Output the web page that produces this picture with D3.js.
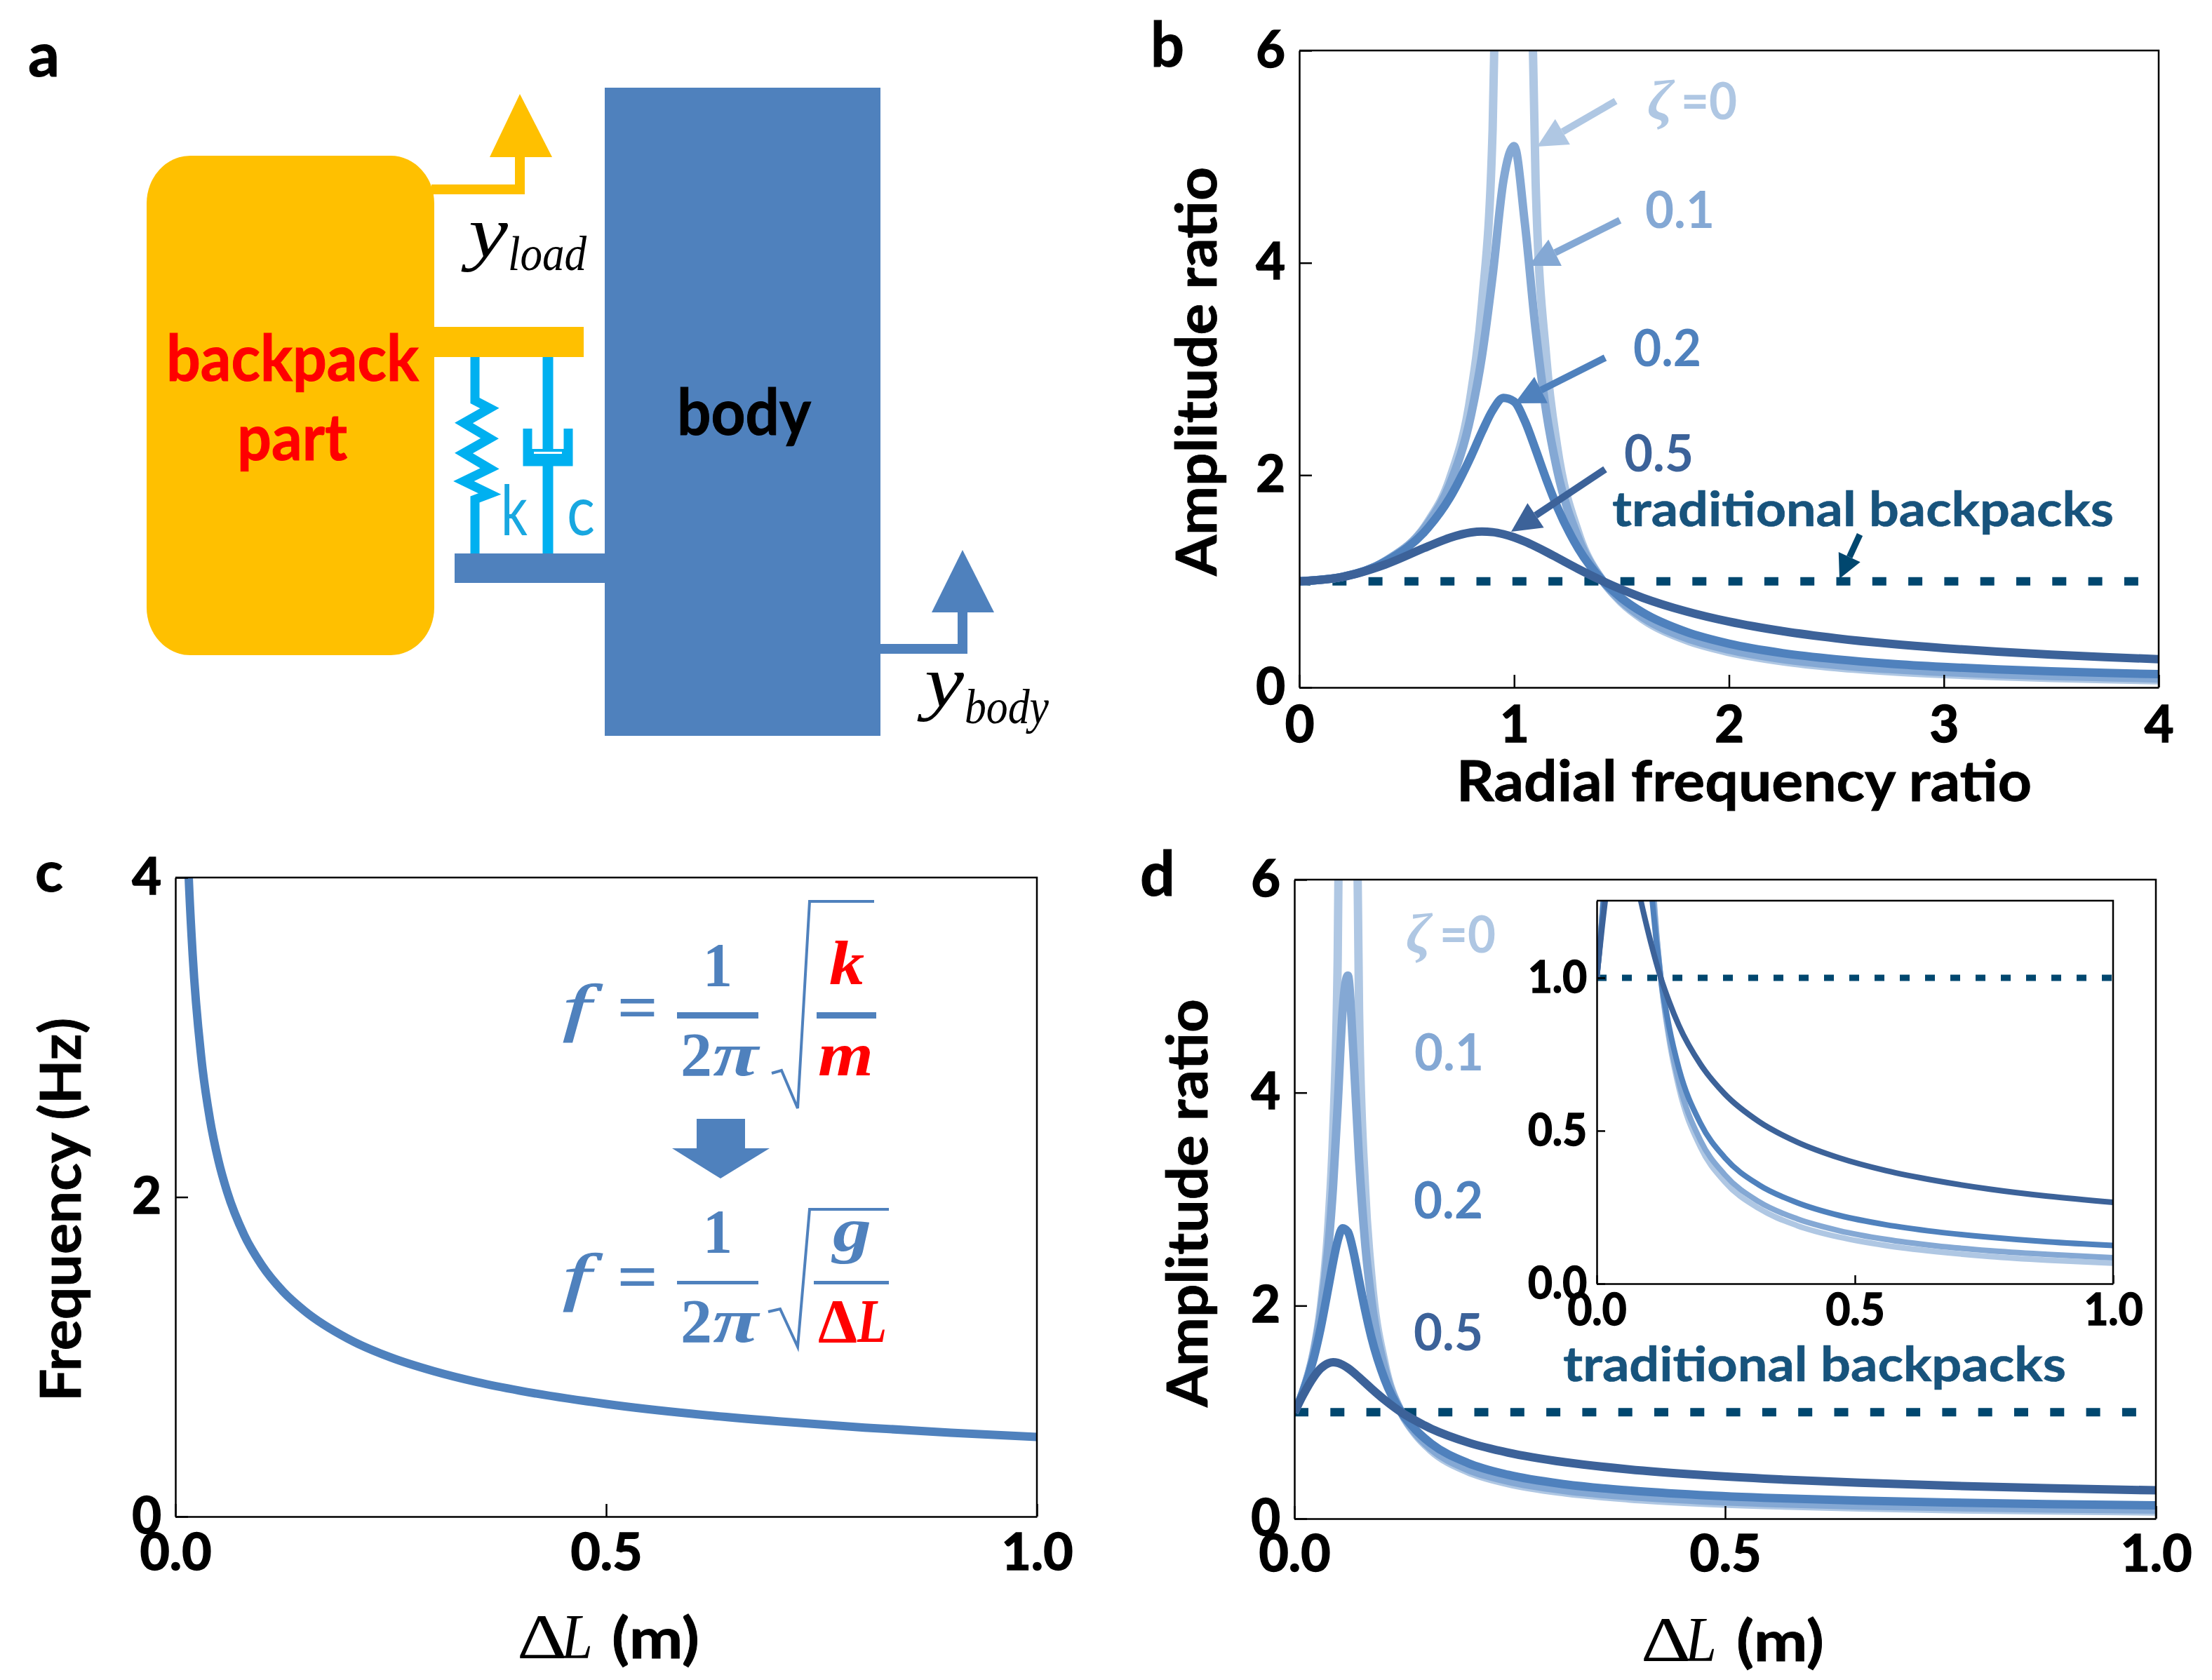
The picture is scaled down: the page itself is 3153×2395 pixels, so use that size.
<!DOCTYPE html>
<html><head><meta charset="utf-8">
<script src="https://cdn.jsdelivr.net/npm/d3@7/dist/d3.min.js"></script>
<style>html,body{margin:0;padding:0;background:#fff}svg{display:block}</style>
</head><body><svg id="c" width="3153" height="2395"></svg>
<script>
// ---- values ----
const radialRatio=[0,.2,.4,.6,.7,.8,.85,.9,.95,1,1.05,1.1,1.15,1.2,1.3,1.414,1.5,1.6,1.8,2,2.25,2.5,2.75,3,3.25,3.5,3.75,4];
const deltaLGrid=[0,.0025,.0099,.0224,.0304,.0397,.0449,.0503,.056,.0621,.0685,.0751,.0821,.0894,.105,.124,.14,.159,.201,.248,.314,.388,.47,.559,.656,.761,.873,1];
const ampZeta0=[1,1.042,1.19,1.563,1.961,2.778,3.604,5.263,10.26,null,9.76,4.762,3.10,2.273,1.449,1,.8,.641,.446,.333,.246,.19,.152,.125,.105,.089,.077,.067];
const ampZeta01=[1,1.042,1.189,1.547,1.909,2.571,3.117,3.88,4.77,5.1,4.37,3.37,2.59,2.05,1.4,1,.812,.659,.468,.356,.268,.212,.173,.145,.124,.108,.096,.085];
const ampZeta02=[1,1.041,1.184,1.505,1.785,2.18,2.407,2.611,2.727,2.693,2.509,2.241,1.959,1.703,1.304,1,.841,.704,.524,.412,.323,.265,.223,.193,.17,.152,.137,.125];
const ampZeta05=[1,1.04,1.158,1.329,1.409,1.46,1.468,1.463,1.444,1.414,1.374,1.327,1.276,1.222,1.114,1,.923,.844,.717,.62,.53,.463,.411,.37,.337,.309,.286,.266];
const traditionalX=[0,1];
const traditionalY=[1,1];
const freqL=[.012,.0155,.02,.03,.04,.05,.06,.08,.1,.125,.15,.2,.25,.3,.35,.4,.5,.6,.7,.8,.9,1];
const freqHz=[4.55,4,3.52,2.875,2.49,2.228,2.034,1.761,1.576,1.409,1.287,1.114,.996,.91,.842,.788,.705,.643,.596,.557,.525,.498];
const ticksB_X=[0,1,2,3,4], ticksAmp=[0,2,4,6], ticksFreq=[0,2,4], ticksL=[0,.5,1], ticksInsetY=[0,.5,1];
const seriesColors=["#AFC7E3","#84A8D4","#4F81BD","#3C6299"];
const DASH="#00476F", BLUE="#4F81BD", YEL="#FFC000", CY="#00B0F0";
const SANS="Lato, 'Noto Sans', sans-serif", SERIF="'Liberation Serif', serif";

const svg=d3.select("#c");
svg.append("rect").attr("width",3153).attr("height",2395).attr("fill","#fff");
function txt(s,x0,x1,y,fs,fill,o={}){
  const t=svg.append("text").attr("x",x0).attr("y",y).attr("font-size",fs).attr("fill",fill)
   .attr("font-family",o.family||SANS).attr("font-weight",o.weight||700).attr("font-style",o.style||"normal")
   .attr("textLength",x1-x0).attr("lengthAdjust","spacingAndGlyphs").text(s);
  if(o.thick) t.attr("stroke",fill).attr("stroke-width",o.thick);
  return t;
}
function vtxt(s,xb,yBottom,yTop,fs,fill){
  svg.append("text").attr("transform",`translate(${xb},${yBottom}) rotate(-90)`).attr("font-size",fs).attr("fill",fill).attr("stroke",fill).attr("stroke-width",.8)
   .attr("font-family",SANS).attr("font-weight",700).attr("textLength",yBottom-yTop).attr("lengthAdjust","spacingAndGlyphs").text(s);
}
function poly(pts,fill){svg.append("polygon").attr("points",pts.map(p=>p.join(",")).join(" ")).attr("fill",fill);}
function rect(x0,y0,x1,y1,fill){svg.append("rect").attr("x",x0).attr("y",y0).attr("width",x1-x0).attr("height",y1-y0).attr("fill",fill);}
function pline(pts,stroke,w,join){svg.append("polyline").attr("points",pts.map(p=>p.join(",")).join(" ")).attr("fill","none").attr("stroke",stroke).attr("stroke-width",w).attr("stroke-linejoin",join||"miter");}
function arrow(x0,y0,x1,y1,color,w,hl,hw){
  const a=Math.atan2(y1-y0,x1-x0),cx=x1-hl*Math.cos(a),cy=y1-hl*Math.sin(a),nx=-Math.sin(a),ny=Math.cos(a);
  svg.append("line").attr("x1",x0).attr("y1",y0).attr("x2",cx).attr("y2",cy).attr("stroke",color).attr("stroke-width",w);
  poly([[x1,y1],[cx+nx*hw/2,cy+ny*hw/2],[cx-nx*hw/2,cy-ny*hw/2]],color);
}

let clipId=0;
function panel(o){
  const x=d3.scaleLinear().domain(o.xd).range([o.x0,o.x1]);
  const y=d3.scaleLinear().domain(o.yd).range([o.y1,o.y0]);
  const id="clip"+(clipId++);
  svg.append("clipPath").attr("id",id).append("rect").attr("x",o.x0).attr("y",o.y0).attr("width",o.x1-o.x0).attr("height",o.y1-o.y0);
  const g=svg.append("g").attr("clip-path",`url(#${id})`);
  const line=(xs)=>d3.line().defined(d=>d!=null).x((d,i)=>x(xs[i])).y(d=>y(d)).curve(d3.curveMonotoneX);
  if(o.dash){
    g.append("path").attr("d",d3.line().x((d,i)=>x(o.dash[0][i])).y(d=>y(d))(o.dash[1])).attr("fill","none").attr("stroke",DASH)
     .attr("stroke-width",o.dashW).attr("stroke-dasharray",o.dashA).attr("stroke-dashoffset",o.dashO||0);
  }
  o.series.forEach((s,i)=>{
    g.append("path").attr("d",line(o.xs)(s)).attr("fill","none").attr("stroke",o.colors[i]).attr("stroke-width",o.w);
  });
  const ax=svg.append("g").attr("transform",`translate(0,${o.y1})`).call(d3.axisBottom(x).tickValues(o.xt).tickFormat(o.xf).tickSizeInner(-o.tl).tickSizeOuter(0).tickPadding(o.xpad));
  const ay=svg.append("g").attr("transform",`translate(${o.x0},0)`).call(d3.axisLeft(y).tickValues(o.yt).tickFormat(o.yf).tickSizeInner(-o.tl).tickSizeOuter(0).tickPadding(o.ypad));
  [ax,ay].forEach(a=>{a.selectAll("path,line").attr("stroke","#000").attr("stroke-width",2.5);
    a.selectAll("text").attr("font-family",SANS).attr("font-weight",700).attr("font-size",o.fs).attr("fill","#000").attr("stroke","#000").attr("stroke-width",1.6);});
  if(o.xlen) ax.selectAll("text").attr("textLength",o.xlen).attr("lengthAdjust","spacingAndGlyphs");
  if(o.ylen) ay.selectAll("text").attr("textLength",o.ylen).attr("lengthAdjust","spacingAndGlyphs");
  svg.append("path").attr("d",`M${o.x0},${o.y0}H${o.x1}V${o.y1}`).attr("fill","none").attr("stroke","#000").attr("stroke-width",2.5);
}
const f0=d3.format("d"), f1=d3.format(".1f");

// ---- panel a (schematic) ----
txt("a",40,85,109,88,"#000",{thick:1});
svg.append("rect").attr("x",209).attr("y",222).attr("width",410).attr("height",712).attr("rx",62).attr("ry",68).attr("fill",YEL);
pline([[615,270],[741,270],[741,224]],YEL,14);
poly([[741,134],[698,224],[787,224]],YEL);
rect(615,466,832,509,YEL);
rect(862,125,1255,1049,BLUE);
rect(648,789,862,831,BLUE);
pline([[677,509],[677,571],[698,582],[661,603],[698,625],[661,646],[698,668],[661,686],[698,704],[677,712],[677,789]],CY,13);
pline([[781,509],[781,789]],CY,15);
pline([[752,611],[752,658],[810,658],[810,611]],CY,13);
rect(752,640,810,664,CY);
rect(761,644,801,647,"#fff");
pline([[1255,925],[1372,925],[1372,873]],BLUE,14);
poly([[1372,784],[1328,873],[1417,873]],BLUE);
txt("backpack",237,597,543,92,"#FF0000",{thick:1});
txt("part",338,495,656,92,"#FF0000",{thick:1});
txt("body",965,1156,620,92,"#000",{thick:1});
txt("k",714,752,763,98,"#18A7E0",{weight:400});
txt("c",808,848,763,98,"#18A7E0",{weight:400});
txt("y",668,724,366,104,"#000",{family:SERIF,style:"italic",weight:400});
txt("load",724,836,385,70,"#000",{family:SERIF,style:"italic",weight:400});
txt("y",1318,1374,1007,104,"#000",{family:SERIF,style:"italic",weight:400});
txt("body",1375,1495,1031,70,"#000",{family:SERIF,style:"italic",weight:400});

// ---- panel b ----
txt("b",1640,1688,95,88,"#000",{thick:1});
panel({x0:1852,x1:3077,y0:72,y1:980,xd:[0,4],yd:[0,6],xs:radialRatio,series:[ampZeta0,ampZeta01,ampZeta02,ampZeta05],colors:seriesColors,w:12,
  dash:[traditionalX.map(v=>v*4),traditionalY],dashW:12,dashA:"20 31.3",dashO:4,xt:ticksB_X,yt:ticksAmp,xf:f0,yf:f0,tl:18,xpad:27,ypad:20,fs:72});
vtxt("Amplitude ratio",1734,821,238,80,"#000");
txt("Radial frequency ratio",2076,2896,1142,80,"#000",{thick:.8});
txt("ζ",2348,2385,170,80,seriesColors[0],{family:SERIF,style:"italic"});
txt("=0",2396,2476,170,72,seriesColors[0]);
txt("0.1",2345,2444,325,72,seriesColors[1]);
txt("0.2",2328,2425,522,72,seriesColors[2]);
txt("0.5",2315,2414,672,72,seriesColors[3]);
txt("traditional backpacks",2298,3013,750,68,"#17537C",{thick:.6});
arrow(2303,144,2191,209,seriesColors[0],10,42,42);
arrow(2309,314,2179,379,seriesColors[1],10,42,42);
arrow(2288,510,2159,575,seriesColors[2],10,42,42);
arrow(2288,669,2154,758,seriesColors[3],10,42,42);
arrow(2651,762,2622,825,DASH,9,34,34);

// ---- panel c ----
txt("c",50,90,1271,80,"#000",{thick:1});
panel({x0:250,x1:1478,y0:1251,y1:2162,xd:[0,1],yd:[0,4],xs:freqL,series:[freqHz],colors:[BLUE],w:12,
  xt:ticksL,yt:ticksFreq,xf:f1,yf:f0,tl:18,xpad:25,ypad:20,fs:72,xlen:102});
vtxt("Frequency (Hz)",115,1998,1451,80,"#000");
txt("Δ",737,808,2364,92,"#000",{family:SERIF,weight:400});
txt("L",800,845,2364,92,"#000",{family:SERIF,style:"italic",weight:400});
txt("(m)",872,997,2364,80,"#000",{thick:.8});

// formula 1
const F=(s,x0,x1,y,c)=>txt(s,x0,x1,y,88,c,{family:SERIF,style:"italic"});
const FL=(s,x0,x1,y,c)=>txt(s,x0,x1,y,92,c,{family:SERIF,style:"italic",weight:400,thick:1.2});
FL("f",802,842,1467,BLUE); txt("=",881,936,1467,92,BLUE,{family:SERIF,weight:400,thick:2});
txt("1",1002,1044,1405,88,BLUE,{family:SERIF}); rect(965,1443,1081,1452,BLUE);
txt("2",970,1015,1533,88,BLUE,{family:SERIF}); F("π",1016,1081,1533,BLUE);
pline([[1100,1530],[1114,1526],[1137,1580],[1154,1285],[1246,1285]],BLUE,4);
F("k",1182,1232,1403,"#FF0000"); rect(1164,1443,1249,1452,BLUE); F("m",1166,1245,1533,"#FF0000");
poly([[993,1595],[1062,1595],[1062,1637],[1097,1637],[1027,1680],[958,1637],[993,1637]],BLUE);
// formula 2
FL("f",802,842,1851,BLUE); txt("=",881,936,1851,92,BLUE,{family:SERIF,weight:400,thick:2});
txt("1",1002,1044,1785,88,BLUE,{family:SERIF}); rect(965,1826,1081,1831,BLUE);
txt("2",970,1015,1913,88,BLUE,{family:SERIF}); F("π",1016,1081,1913,BLUE);
pline([[1095,1870],[1112,1866],[1137,1920],[1154,1724],[1267,1724]],BLUE,4);
F("g",1187,1242,1783,BLUE); rect(1160,1826,1267,1831,BLUE);
txt("Δ",1166,1222,1913,88,"#FF0000",{family:SERIF}); F("L",1222,1264,1913,"#FF0000");

// ---- panel d ----
txt("d",1625,1675,1277,88,"#000",{thick:1});
panel({x0:1845,x1:3073,y0:1254,y1:2165,xd:[0,1],yd:[0,6],xs:deltaLGrid,series:[ampZeta0,ampZeta01,ampZeta02,ampZeta05],colors:seriesColors,w:12,
  dash:[traditionalX,traditionalY],dashW:12,dashA:"20 31.3",dashO:0,xt:ticksL,yt:ticksAmp,xf:f1,yf:f0,tl:18,xpad:24,ypad:20,fs:72,xlen:102});
vtxt("Amplitude ratio",1721,2006,1424,80,"#000");
txt("Δ",2339,2410,2368,92,"#000",{family:SERIF,weight:400});
txt("L",2402,2447,2368,92,"#000",{family:SERIF,style:"italic",weight:400});
txt("(m)",2475,2600,2368,80,"#000",{thick:.8});
txt("ζ",2004,2040,1358,80,seriesColors[0],{family:SERIF,style:"italic"});
txt("=0",2052,2132,1358,72,seriesColors[0]);
txt("0.1",2016,2115,1526,72,seriesColors[1]);
txt("0.2",2015,2114,1737,72,seriesColors[2]);
txt("0.5",2015,2114,1925,72,seriesColors[3]);
panel({x0:2276,x1:3012,y0:1284,y1:1830,xd:[0,1],yd:[0,1.252],xs:deltaLGrid,series:[ampZeta0,ampZeta01,ampZeta02,ampZeta05],colors:seriesColors,w:8,
  dash:[traditionalX,traditionalY],dashW:9,dashA:"14 22",dashO:0,xt:ticksL,yt:ticksInsetY,xf:f1,yf:f1,tl:12,xpad:14,ypad:14,fs:64,xlen:84,ylen:84});
txt("traditional backpacks",2228,2945,1969,68,"#17537C",{thick:.6});
</script></body></html>
